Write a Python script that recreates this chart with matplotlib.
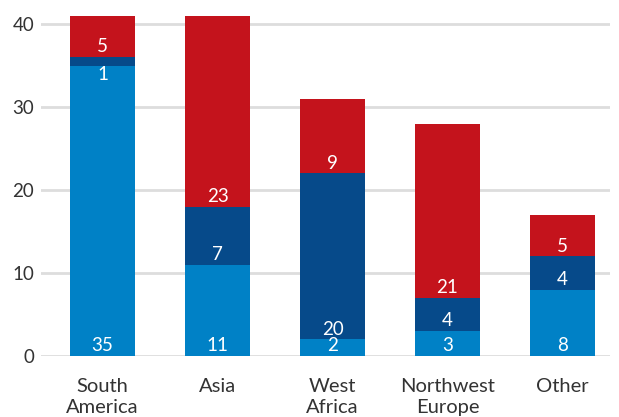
import numpy as np
import matplotlib.pyplot as plt

plt.rcParams['font.family'] = ['Lato', 'DejaVu Sans']

# data (bottom -> top segments)
regions = ['South\nAmerica', 'Asia', 'West\nAfrica', 'Northwest\nEurope', 'Other']
bottom_vals = [35, 11, 2, 3, 8]
middle_vals = [1, 7, 20, 4, 4]
top_vals = [5, 23, 9, 21, 5]
y_ticks = [0, 10, 20, 30, 40]

colors = ['#0081C6', '#064A8A', '#C4131C']

fig = plt.figure(figsize=(6.19, 4.17), dpi=100)
ax = fig.add_axes([41 / 619, 61 / 417, 569 / 619, 346 / 417])

x = np.arange(len(regions))
width = 0.565
base = np.zeros(len(regions))
for vals, col in zip([bottom_vals, middle_vals, top_vals], colors):
    vals = np.array(vals)
    ax.bar(x, vals, width, bottom=base, color=col, zorder=2)
    for xi, b, v in zip(x, base, vals):
        if v >= 2:
            ax.annotate(str(v), (xi, b), xytext=(0, 3.5), textcoords='offset points',
                        ha='center', va='baseline', color='white', fontsize=13.5, zorder=3)
        else:
            # thin segment: put label just under it
            ax.annotate(str(v), (xi, b), xytext=(0, 0), textcoords='offset points',
                        ha='center', va='top', color='white', fontsize=13.5, zorder=3)
    base = base + vals

ax.set_xlim(-0.535, 4.413)
ax.set_ylim(0, 41.7)
ax.set_yticks(y_ticks)
ax.yaxis.grid(True, color='#dddddd', linewidth=2, zorder=0)
ax.set_axisbelow(True)
ax.set_xticks(x)
ax.set_xticklabels(regions, fontsize=14.5, color='#333333', linespacing=1.25)
ax.tick_params(axis='y', labelsize=13.5, labelcolor='#333333', length=0, pad=5)
ax.tick_params(axis='x', length=0, pad=16)
for s in ax.spines.values():
    s.set_visible(False)

fig.savefig('out.png', dpi=100)
